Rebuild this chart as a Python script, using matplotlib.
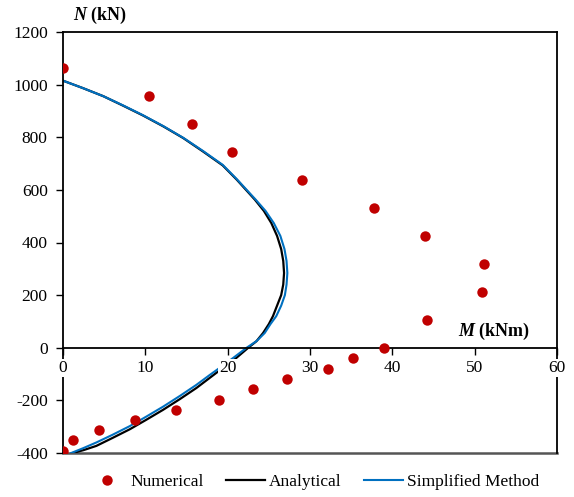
import matplotlib.pyplot as plt
import matplotlib

matplotlib.rcParams['font.family'] = 'Liberation Serif'
matplotlib.rcParams['mathtext.fontset'] = 'custom'
matplotlib.rcParams['mathtext.bfit'] = 'Liberation Serif:italic:bold'
matplotlib.rcParams['mathtext.rm'] = 'Liberation Serif'
matplotlib.rcParams['axes.unicode_minus'] = False

# Numerical results (M in kNm, N in kN)
num_M = [0.0, 10.4, 15.7, 20.5, 29.0, 37.8, 44.0, 51.1, 50.9, 44.2, 39.0,
         35.2, 32.2, 27.2, 23.1, 18.9, 13.7, 8.7, 4.4, 1.2, 0.0]
num_N = [1062, 958, 852, 745, 638, 532, 426, 319, 213, 106, 0,
         -40, -79, -119, -158, -198, -237, -276, -314, -352, -392]

# Analytical interaction curve
ana_M = [0.0, 2.4, 4.9, 7.3, 9.7, 12.2, 14.6, 17.0, 19.4, 21.1, 23.3, 24.4,
         25.3, 26.0, 26.5, 26.75, 26.85, 26.75, 26.5, 26.0, 25.5, 25.0, 24.3,
         23.5, 22.5, 20.7, 19.4, 17.8, 16.2, 14.2, 12.15, 10.1, 8.1, 6.0,
         4.05, 2.5, 1.2]
ana_N = [1015, 987, 956, 920, 883, 841, 797, 746, 693, 639, 563, 520,
         474, 425, 375, 330, 284, 240, 200, 160, 120, 90, 56,
         25, 0, -48, -77, -115, -153, -195, -236, -274, -310, -343,
         -373, -389, -400]

# Simplified method curve
sim_M = [0.0, 2.4, 4.9, 7.3, 9.7, 12.2, 14.6, 17.0, 19.4, 21.1, 23.4, 24.6,
         25.6, 26.4, 26.9, 27.15, 27.25, 27.15, 26.95, 26.5, 25.9, 25.2, 24.5,
         23.5, 22.3, 20.7, 19.4, 17.8, 16.2, 14.2, 12.15, 10.1, 8.1, 6.0,
         4.05, 2.5, 1.0]
sim_N = [1015, 987, 956, 921, 884, 842, 798, 748, 695, 641, 563, 520,
         474, 425, 375, 330, 284, 240, 200, 160, 120, 90, 56,
         25, 0, -38, -68, -104, -141, -183, -224, -262, -298, -331,
         -360, -381, -400]

fig = plt.figure(figsize=(5.74, 4.97), dpi=100)
ax = fig.add_axes([63/574, 1-453/497, (557-63)/574, (453-32)/497])

ax.plot(num_M, num_N, 'o', color='#C00000', markersize=7.5, markeredgewidth=0,
        label='Numerical', zorder=3)
ax.plot(ana_M, ana_N, color='black', linewidth=1.6, label='Analytical', zorder=2)
ax.plot(sim_M, sim_N, color='#0070C0', linewidth=1.5, label='Simplified Method', zorder=2.2)

ax.set_xlim(0, 60)
ax.set_ylim(-400, 1200)
ax.set_xticks([0, 10, 20, 30, 40, 50, 60])
ax.set_yticks(range(-400, 1201, 200))

ax.spines['bottom'].set_position(('data', 0))
for s in ['left', 'right', 'top', 'bottom']:
    ax.spines[s].set_linewidth(1.3)
ax.plot([0, 1], [0, 0], transform=ax.transAxes, color='#555555', linewidth=1.8,
        clip_on=False, zorder=1)

ax.tick_params(axis='both', direction='out', length=5, width=1.0, labelsize=12.5)
ax.tick_params(axis='y', pad=6)
ax.tick_params(axis='x', pad=4)
ax.xaxis.set_zorder(5)
for t in ax.get_xticklabels():
    t.set_bbox(dict(facecolor='white', edgecolor='none', pad=0.8))

ax.text(48.0, 61, r'$\mathbfit{M}$ (kNm)', fontsize=13, fontweight='bold',
        va='center', ha='left')
fig.text(73/574, 1-15/497, r'$\mathbfit{N}$ (kN)', fontsize=13, fontweight='bold',
         va='center', ha='left')

fig.legend(loc='center', bbox_to_anchor=(0.546, 1-482/497), ncol=3, frameon=False,
           fontsize=12.5, handlelength=2.25, handletextpad=0.2, columnspacing=1.3)

plt.savefig('out.png', dpi=100)
